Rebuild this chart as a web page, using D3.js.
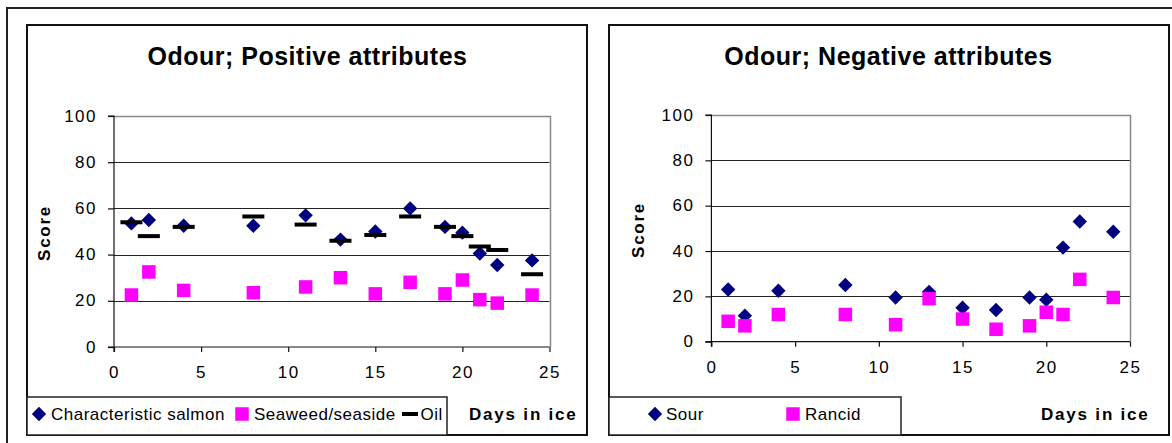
<!DOCTYPE html>
<html><head><meta charset="utf-8">
<script src="https://cdn.jsdelivr.net/npm/d3@7"></script>
<style>
html,body{margin:0;padding:0;background:#fff;}
svg text{font-family:Arial,"Liberation Sans",sans-serif;}
</style></head>
<body><svg id="chart" width="1172" height="443"></svg>
<script>
const days = [1, 2, 4, 8, 11, 13, 15, 17, 19, 20, 21, 22, 24];
const salmon = [53.5, 55, 52.5, 52.5, 57, 46.5, 50, 60, 52, 49.5, 40.5, 35.5, 37.5];
const seaweed = [22.5, 32.5, 24.5, 23.5, 26, 30, 23, 28, 23, 29, 20.5, 19, 22.5];
const oil = [54, 48, 52, 56.5, 53, 46, 48.5, 56.5, 52, 48, 43.5, 42, 31.5];
const sour = [23, 11.5, 22.5, 25, 19.5, 22, 15, 14, 19.5, 18.5, 41.5, 53, 48.5];
const rancid = [9, 7, 12, 12, 7.5, 19, 10, 5.5, 7, 13, 12, 27.5, 19.5];
const xTicks = [0, 5, 10, 15, 20, 25];
const yTicks = [0, 20, 40, 60, 80, 100];
const titles = ["Odour; Positive attributes", "Odour; Negative attributes"];
const legend1 = ["Characteristic salmon", "Seaweed/seaside", "Oil"];
const legend2 = ["Sour", "Rancid"];
const xTitle = "Days in ice";
const yTitle = "Score";

const svg = d3.select("#chart");
svg.append("rect").attr("x", 7).attr("y", 8).attr("width", 1180).attr("height", 460)
  .attr("fill", "none").attr("stroke", "#222").attr("stroke-width", 2);

const panels = [
  {box: [27, 25, 587, 435], px: [114, 549.5], py: [347, 116], leg: [27, 397, 447, 435],
   title: titles[0], tx: 307.5, scoreX: 50, scoreY: 233, daysX: 469,
   series: [
     {vals: salmon, type: "diamond", name: legend1[0], lx: 39, tx: 51},
     {vals: seaweed, type: "square", name: legend1[1], lx: 242, tx: 254},
     {vals: oil, type: "dash", name: legend1[2], lx: 410, tx: 420.5}
   ]},
  {box: [609, 25, 1169, 435], px: [711.4, 1130], py: [341.7, 115], leg: [609, 397, 901, 435],
   title: titles[1], tx: 888.5, scoreX: 644, scoreY: 230, daysX: 1041,
   series: [
     {vals: sour, type: "diamond", name: legend2[0], lx: 655, tx: 666},
     {vals: rancid, type: "square", name: legend2[1], lx: 793, tx: 805}
   ]}
];

function marker(g, type, cx, cy, w) {
  if (type === "diamond") {
    const r = 7.2;
    g.append("path").attr("d", `M${cx},${cy - r}L${cx + r},${cy}L${cx},${cy + r}L${cx - r},${cy}Z`)
      .attr("fill", "#000080");
  } else if (type === "square") {
    const s = 13.5;
    g.append("rect").attr("x", cx - s / 2).attr("y", cy - s / 2).attr("width", s).attr("height", s)
      .attr("fill", "#ff00ff");
  } else {
    const dw = w || 22;
    g.append("rect").attr("x", cx - dw / 2).attr("y", cy - 2).attr("width", dw).attr("height", 4)
      .attr("fill", "#000");
  }
}

panels.forEach(p => {
  const g = svg.append("g");
  const [bx0, by0, bx1, by1] = p.box;
  g.append("rect").attr("x", bx0).attr("y", by0).attr("width", bx1 - bx0).attr("height", by1 - by0)
    .attr("fill", "#fff").attr("stroke", "#111").attr("stroke-width", 2);

  const x = d3.scaleLinear().domain([0, 25]).range(p.px);
  const y = d3.scaleLinear().domain([0, 100]).range(p.py);

  g.append("g").selectAll("line").data(yTicks.filter(t => t > 0 && t < 100)).join("line")
    .attr("x1", x(0)).attr("x2", x(25)).attr("y1", d => Math.round(y(d)) + 0.5).attr("y2", d => Math.round(y(d)) + 0.5)
    .attr("stroke", "#222").attr("stroke-width", 1);
  g.append("path").attr("d", `M${x(0)},${Math.round(y(100)) + 0.5}H${Math.round(x(25)) + 0.5}V${y(0)}`)
    .attr("fill", "none").attr("stroke", "#888").attr("stroke-width", 1.5);

  const ya = d3.axisLeft(y).tickValues(yTicks).tickSize(6).tickPadding(11).tickFormat(d3.format("d"));
  const yg = g.append("g").attr("transform", `translate(${x(0)},0)`).call(ya);
  const xa = d3.axisBottom(x).tickValues(xTicks).tickSize(5).tickPadding(14).tickFormat(d3.format("d"));
  const xg = g.append("g").attr("transform", `translate(0,${y(0)})`).call(xa);
  [yg, xg].forEach(a => {
    a.attr("font-size", null).attr("font-family", null);
    a.select(".domain").attr("stroke", "#111").attr("stroke-width", 1.2);
    a.selectAll(".tick line").attr("stroke", "#111").attr("stroke-width", 1.2);
    a.selectAll(".tick text").attr("fill", "#000").style("font-size", "17px").style("letter-spacing", "1.5px");
  });
  yg.select(".domain").attr("d", `M-6,${y(100)}H0V${y(0) + 5}`);
  xg.select(".domain").attr("d", `M${x(0) - 6},0H${x(25)}`);
  yg.selectAll(".tick text").attr("dy", "0.3em");

  g.append("text").attr("x", p.tx).attr("y", 65).attr("text-anchor", "middle")
    .style("font-size", "25px").style("font-weight", "bold").style("letter-spacing", "0.5px").text(p.title);
  g.append("text").attr("transform", `translate(${p.scoreX},${p.scoreY}) rotate(-90)`)
    .attr("text-anchor", "middle").style("font-size", "17px").style("font-weight", "bold")
    .style("letter-spacing", "1.7px").text(yTitle);
  g.append("text").attr("x", p.daysX).attr("y", 420).style("font-size", "17px").style("font-weight", "bold")
    .style("letter-spacing", "1.8px").text(xTitle);

  const [lx0, ly0, lx1, ly1] = p.leg;
  g.append("rect").attr("x", lx0).attr("y", ly0).attr("width", lx1 - lx0).attr("height", ly1 - ly0)
    .attr("fill", "#fff").attr("stroke", "#222").attr("stroke-width", 1.5);

  p.series.forEach(s => {
    const mg = g.append("g");
    s.vals.forEach((v, i) => marker(mg, s.type, x(days[i]), y(v)));
    marker(g, s.type, s.lx, 414, 16);
    g.append("text").attr("x", s.tx).attr("y", 419.5).style("font-size", "17px")
      .style("letter-spacing", "0.5px").text(s.name);
  });
});
</script></body></html>
